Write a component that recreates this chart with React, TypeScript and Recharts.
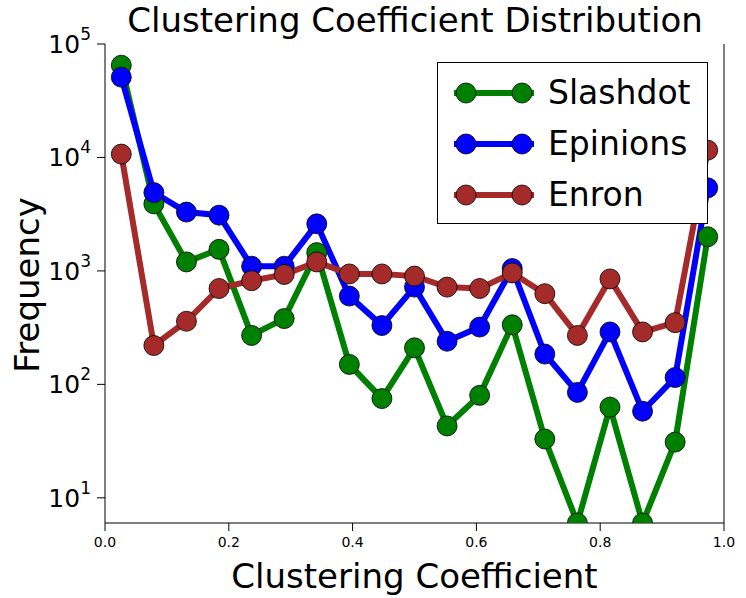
import { LineChart, Line, XAxis, YAxis, Label } from "recharts";

const binCount = 19;
const slashdot = [65000, 3900, 1200, 1550, 270, 380, 1450, 150, 75, 210, 43, 80, 335, 33, 6, 63, 6, 31, 2000];
const epinions = [51000, 4900, 3300, 3100, 1100, 1100, 2600, 600, 330, 720, 240, 320, 1050, 185, 85, 290, 58, 115, 5400];
const enron = [10700, 220, 360, 700, 820, 930, 1200, 940, 940, 900, 720, 700, 960, 630, 270, 850, 290, 350, 11600];
const xTicks = [0, 0.2, 0.4, 0.6, 0.8, 1.0];
const yTicks = [10, 100, 1000, 10000, 100000];

const series = [
  { key: "slashdot", name: "Slashdot", color: "#008000" },
  { key: "epinions", name: "Epinions", color: "#0000ff" },
  { key: "enron", name: "Enron", color: "#a52a2a" },
];

const data = slashdot.map((v, i) => ({
  x: (i + 0.5) / binCount,
  slashdot: v,
  epinions: epinions[i],
  enron: enron[i],
}));

const FONT = "DejaVu Sans, sans-serif";

function YTick({ x, y, payload }: any) {
  const exp = Math.round(Math.log10(payload.value));
  return (
    <g>
      <line x1={x} x2={x + 8} y1={y} y2={y} stroke="#000" />
      <text x={x - 6} y={y + 9} textAnchor="end" fontFamily={FONT} fill="#000">
        <tspan fontSize={25}>10</tspan>
        <tspan fontSize={17} dy={-13}>{exp}</tspan>
      </text>
    </g>
  );
}

function XTick({ x, y, payload }: any) {
  return (
    <g>
      <line x1={x} x2={x} y1={y} y2={y - 8} stroke="#000" />
      <text x={x} y={y + 16} textAnchor="middle" fontFamily={FONT} fontSize={14} fill="#000">
        {payload.value.toFixed(1)}
      </text>
    </g>
  );
}

function LegendBox() {
  return (
    <div style={{ position: "absolute", left: 437, top: 62, width: 271, height: 162, border: "1px solid #000", background: "#fff", boxSizing: "border-box", paddingTop: 4 }}>
      {series.map((s) => (
        <div key={s.key} style={{ display: "flex", alignItems: "center", height: 51 }}>
          <svg width={100} height={30} style={{ marginLeft: 6 }}>
            <line x1={10} x2={90} y1={15} y2={15} stroke={s.color} strokeWidth={6} />
            <circle cx={22} cy={15} r={10} fill={s.color} stroke="#000" strokeWidth={0.8} />
            <circle cx={78} cy={15} r={10} fill={s.color} stroke="#000" strokeWidth={0.8} />
          </svg>
          <span style={{ fontFamily: FONT, fontSize: 33, marginLeft: 4 }}>{s.name}</span>
        </div>
      ))}
    </div>
  );
}

export default function App() {
  return (
    <div style={{ position: "fixed", left: 0, top: 0, width: 746, height: 598, background: "#fff" }}>
      <div style={{ position: "absolute", top: 0, left: 105, width: 620, textAlign: "center", fontFamily: FONT, fontSize: 34 }}>
        Clustering Coefficient Distribution
      </div>
      <div style={{ position: "absolute", left: 27, top: 285, transform: "translate(-50%, -50%) rotate(-90deg)", fontFamily: FONT, fontSize: 34, whiteSpace: "nowrap" }}>
        Frequency
      </div>
      <LineChart width={746} height={598} data={data} margin={{ top: 44, right: 21, left: 0, bottom: 0 }}>
        <XAxis
          xAxisId="b"
          dataKey="x"
          type="number"
          domain={[0, 1]}
          ticks={xTicks}
          height={75}
          axisLine={{ stroke: "#000" }}
          tickLine={false}
          tick={<XTick />}
        >
          <Label value="Clustering Coefficient" position="insideBottom" offset={10} style={{ fontFamily: FONT, fontSize: 34, fill: "#000" }} />
        </XAxis>
        <XAxis xAxisId="t" orientation="top" dataKey="x" type="number" domain={[0, 1]} height={0} tick={false} tickLine={false} axisLine={{ stroke: "#000" }} />
        <YAxis
          yAxisId="l"
          type="number"
          scale="log"
          domain={[6, 100000]}
          ticks={yTicks}
          allowDataOverflow
          width={105}
          axisLine={{ stroke: "#000" }}
          tickLine={false}
          tick={<YTick />}
        />
        <YAxis yAxisId="r" orientation="right" type="number" scale="log" domain={[6, 100000]} allowDataOverflow width={1} tick={false} tickLine={false} axisLine={{ stroke: "#000" }} />
        {series.map((s) => (
          <Line
            key={s.key}
            xAxisId="b"
            yAxisId="l"
            dataKey={s.key}
            name={s.name}
            stroke={s.color}
            strokeWidth={6}
            dot={{ r: 10, fill: s.color, stroke: "#000", strokeWidth: 0.8 }}
            isAnimationActive={false}
          />
        ))}
      </LineChart>
      <LegendBox />
    </div>
  );
}
